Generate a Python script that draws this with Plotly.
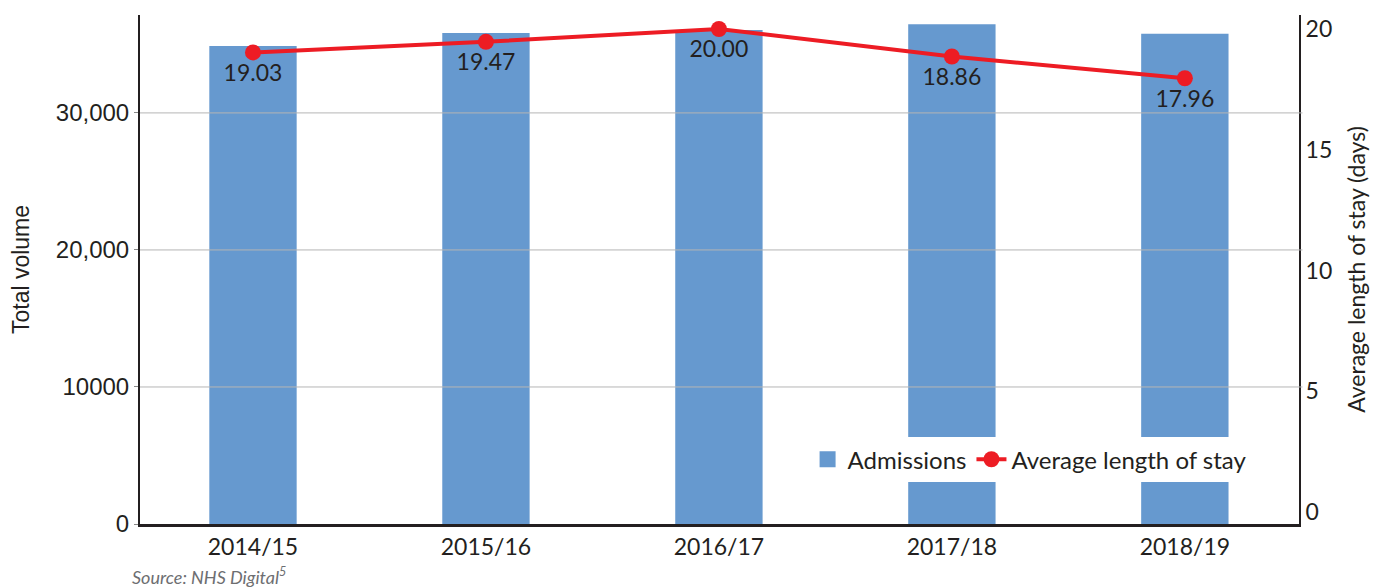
import plotly.graph_objects as go

years = ["2014/15", "2015/16", "2016/17", "2017/18", "2018/19"]
admissions = [34890, 35830, 36050, 36470, 35780]
avg_stay = [19.03, 19.47, 20.00, 18.86, 17.96]
left_tickvals = [0, 10000, 20000, 30000]
left_ticktext = ["0", "10000", "20,000", "30,000"]
right_tickvals = [0, 5, 10, 15, 20]

DARK = "#231f20"
BLUE = "#6699cf"
RED = "#ed1c24"

fig = go.Figure()
fig.add_trace(go.Bar(
    x=years, y=admissions, name="Admissions",
    marker=dict(color=BLUE, line=dict(width=0)),
    width=0.375, yaxis="y", showlegend=False,
))
# legend-only entry giving a larger square swatch for the bars
fig.add_trace(go.Scatter(
    x=[None], y=[None], name="Admissions", mode="markers",
    marker=dict(color=BLUE, symbol="square", size=16), showlegend=True,
))
fig.add_trace(go.Scatter(
    x=years, y=avg_stay, name="Average length of stay",
    mode="lines+markers+text",
    line=dict(color=RED, width=4),
    marker=dict(color=RED, size=16),
    text=[f"{v:.2f}" for v in avg_stay],
    textposition="bottom center",
    textfont=dict(family="Lato", size=23, color=DARK),
    yaxis="y2",
))

shapes = []
for v in left_tickvals[1:]:
    shapes.append(dict(type="line", xref="paper", yref="y", x0=0, x1=1.003, y0=v, y1=v,
                       line=dict(color="#b5b5b5", width=1), layer="above"))

fig.update_layout(
    width=1379, height=580,
    margin=dict(l=129, r=88, t=6, b=64),
    paper_bgcolor="white", plot_bgcolor="white",
    showlegend=True,
    legend=dict(
        orientation="h", x=0.576, y=0.1706, xanchor="left", yanchor="top",
        bgcolor="white", borderwidth=0,
        font=dict(family="Lato", size=24, color=DARK),
        itemwidth=30, itemsizing="trace",
    ),
    xaxis=dict(
        type="category", range=[-0.485, 4.49],
        showline=True, linecolor=DARK, linewidth=3,
        ticks="", showgrid=False,
        tickfont=dict(family="Lato", size=23, color=DARK),
    ),
    yaxis=dict(
        range=[0, 37145],
        tickvals=left_tickvals, ticktext=left_ticktext,
        showline=True, linecolor=DARK, linewidth=2,
        ticks="outside", ticklen=4, tickcolor="#888888",
        showgrid=False, zeroline=False,
        tickfont=dict(family="Liberation Sans", size=24, color=DARK),
        title=dict(text="Total volume", font=dict(family="Liberation Sans", size=23, color=DARK), standoff=26),
    ),
    yaxis2=dict(
        overlaying="y", side="right",
        range=[-0.5, 20.58],
        tickvals=right_tickvals,
        showline=True, linecolor=DARK, linewidth=2,
        ticks="", showgrid=False, zeroline=False,
        tickfont=dict(family="Lato", size=23, color=DARK),
        title=dict(text="Average length of stay (days)", font=dict(family="Lato", size=23, color=DARK), standoff=18),
    ),
    shapes=shapes,
    annotations=[dict(
        text="<i>Source: NHS Digital<sup>5</sup></i>", xref="paper", yref="paper",
        x=-0.009, y=-0.102, xanchor="left", yanchor="middle", showarrow=False,
        font=dict(family="Lato", size=18, color="#6d6e71"),
    )],
)

fig.write_html("out.html")
